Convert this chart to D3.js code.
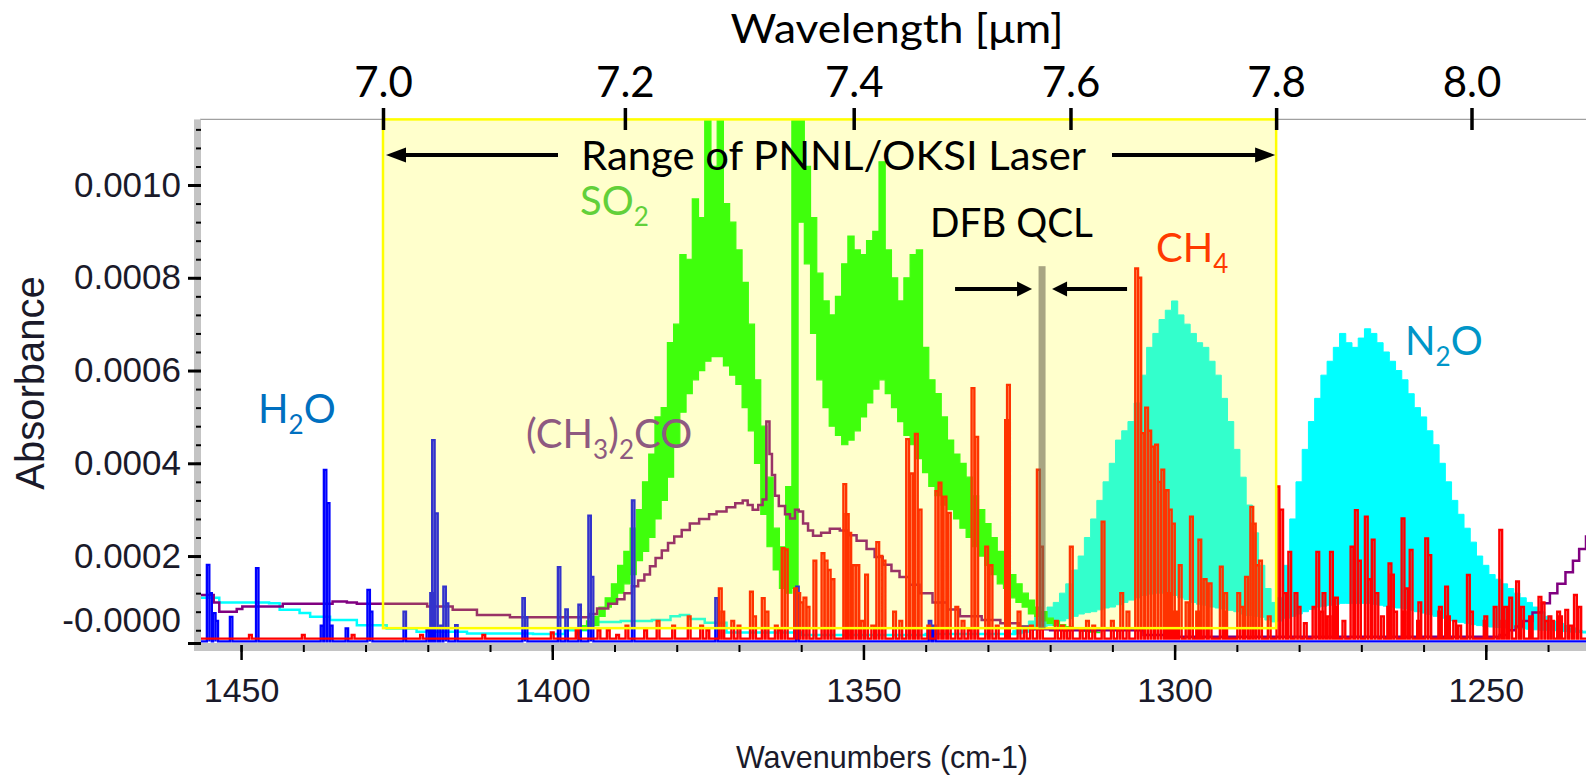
<!DOCTYPE html>
<html><head><meta charset="utf-8">
<script src="https://cdn.jsdelivr.net/npm/d3@7/dist/d3.min.js"></script>
<style>
html,body{margin:0;padding:0;background:#fff;}
svg{display:block;}
</style></head>
<body>
<svg id="chart" width="1586" height="779"></svg>
<script>
// ---------------- DATA ----------------
const yTickValues = [0.0000125, 0.0002, 0.0004, 0.0006, 0.0008, 0.0010];
const yTickLabels = ["-0.0000", "0.0002", "0.0004", "0.0006", "0.0008", "0.0010"];
const xTickValues = [1450, 1400, 1350, 1300, 1250];
const wavelengthTicks = [7.0, 7.2, 7.4, 7.6, 7.8, 8.0];
const laserRangeUm = [7.0, 7.8];
const laserBoxBottomAbs = 0.0000445;
const qclWn = 1321.3;
const qclTopAbs = 0.000825;

// SO2 (green): comb band, lower envelope / upper peaks at 1 cm-1 from 1396 down
const so2Start = 1396;
const so2Low = [0.00003,0.00004,0.000045,0.00005,0.00007,0.00009,0.0001,0.00012,0.00014,0.00016,
 0.00019,0.00021,0.00024,0.00028,0.00032,0.00037,0.00044,0.00051,0.00055,0.00058,
 0.0006,0.00062,0.00063,0.00063,0.00061,0.00059,0.00057,0.00052,0.00047,0.0004,
 0.00029,0.00022,0.00017,0.00013,0.00012,0.00013,0.00092,0.00083,0.00068,0.00058,
 0.00052,0.00048,0.00046,0.00044,0.00045,0.00047,0.0005,0.00053,0.00056,0.00058,
 0.00055,0.00052,0.00049,0.00046,0.00044,0.00041,0.00038,0.00035,0.00033,0.00031,
 0.0003,0.00028,0.00026,0.00024,0.00022,0.0002,0.00018,0.00016,0.00014,0.00013,
 0.00011,0.0001,0.00009,0.000075,0.00007,0.00006,0.000055,0.00005,0.000048,0.000045,
 0.00004,0.00004,0.000038,0.000036,0.000035];
const so2High = [0.00004,0.00005,0.00006,0.00007,0.00009,0.00011,0.00014,0.00018,0.00021,0.00026,
 0.0003,0.00036,0.00042,0.0005,0.00052,0.00066,0.0007,0.00085,0.00084,0.00097,
 0.00093,0.00114,0.00104,0.00114,0.00096,0.00092,0.00086,0.00079,0.0007,0.00058,
 0.00048,0.00037,0.00026,0.00022,0.00035,0.00114,0.00114,0.00104,0.00093,0.00081,
 0.00075,0.00072,0.00076,0.00083,0.00089,0.00086,0.00085,0.00088,0.0009,0.00105,
 0.00086,0.0008,0.00075,0.0008,0.00085,0.00086,0.00065,0.00058,0.00055,0.0005,
 0.00045,0.00042,0.0004,0.00037,0.00033,0.0003,0.00027,0.00024,0.00021,0.00019,
 0.00016,0.00014,0.00012,0.000105,0.00009,0.00008,0.000066,0.00006,0.000052,0.000048,
 0.000045,0.000042,0.00004,0.000038,0.000036];

// N2O (cyan): comb band from 1326 down, plus slow baseline drift on the left
const n2oStart = 1326;
const n2oLow = [0.00003,0.000032,0.000035,0.00004,0.000042,0.000045,0.00005,0.000055,0.00006,0.000065,
 0.00007,0.000075,0.000078,0.00008,0.000084,0.000088,0.00009,0.000095,0.0001,0.000105,
 0.00011,0.000115,0.000118,0.00012,0.00012,0.000118,0.000115,0.00011,0.000106,0.0001,
 0.000096,0.000094,0.00009,0.000088,0.000086,0.000083,0.00008,0.000075,0.000072,0.00007,
 0.000068,0.000062,0.000058,0.00006,0.000066,0.00007,0.000075,0.00008,0.000085,0.00009,
 0.000092,0.000094,0.000096,0.000098,0.000098,0.000098,0.000098,0.000098,0.000096,0.000094,
 0.000092,0.00009,0.000088,0.000086,0.000083,0.00008,0.000077,0.000074,0.00007,0.000066,
 0.000063,0.00006,0.000057,0.000055,0.000052,0.00005,0.000048,0.000047,0.000046,0.000045,
 0.000044,0.000044,0.000043,0.000042,0.000041,0.00004,0.00004,0.000039,0.000038,0.000037,
 0.000036,0.000035,0.000034,0.000034];
const n2oHigh = [0.00004,0.000045,0.00005,0.00006,0.00007,0.00008,0.00009,0.0001,0.00012,0.00014,
 0.00017,0.0002,0.00024,0.00028,0.00032,0.00036,0.0004,0.00045,0.00047,0.00049,
 0.00053,0.00059,0.00065,0.00068,0.00071,0.00073,0.00075,0.00072,0.0007,0.00068,
 0.00066,0.00065,0.00062,0.00059,0.00054,0.00049,0.00043,0.00037,0.00031,0.00025,
 0.00018,0.00013,0.0001,0.00011,0.00018,0.00028,0.00036,0.00043,0.00049,0.00054,
 0.00059,0.00062,0.00065,0.00068,0.00066,0.00065,0.00067,0.00069,0.00068,0.00066,
 0.00064,0.00062,0.0006,0.00058,0.00055,0.00052,0.0005,0.00047,0.00044,0.0004,
 0.00036,0.00032,0.00029,0.00026,0.00023,0.0002,0.00018,0.00016,0.00015,0.00014,
 0.00013,0.00012,0.00011,0.0001,0.00009,0.00008,0.00007,0.00006,0.000055,0.00005,
 0.000045,0.00004,0.000038,0.000036];
const n2oDriftWn  = [1456.6,1453.5,1445.5,1443.8,1440.6,1438.9,1435.7,1431.4,1426.6,1421.8,1413.7,1403.1,1398,1394,1389,1384,1381,1379.5,1378,1375.5,1372,1360,1340,1326];
const n2oDriftAbs = [0.00011,0.0001,0.000098,0.000084,0.000077,0.000069,0.000062,0.000051,0.000044,0.000037,0.000033,0.000032,0.00004,0.000058,0.00006,0.000062,0.00007,0.000073,0.000064,0.000056,0.000035,0.00003,0.000032,0.00003];

// Acetone (CH3)2CO (purple)
const acetoneWn = [1456.6,1454.4,1453.5,1450.7,1449.8,1443.3,1435.3,1433.0,1431.4,1420.1,1416.0,1412.1,1406.8,1399,1394,1392.8,1391,1389.6,1388.4,1387.2,1386.2,1385.2,1384.3,1383.4,1382.4,1381.4,1380.4,1379.2,1377.9,1376.4,1374.8,1373.6,1372.0,1370.6,1369.4,1368.6,1367.8,1366.9,1366.2,1365.6,1365.1,1364.7,1364.2,1363.6,1362.6,1361.8,1361.0,1360.4,1359.7,1358.9,1358.1,1356.8,1355.4,1353.8,1352.5,1351.1,1349.5,1348.2,1346.9,1345.5,1344.2,1342.6,1341.0,1338.9,1336.5,1334.5,1331.0,1328.0,1325.0,1322.8,1320.0,1310.0,1305.0,1300,1250,1247.8,1246.5,1245.2,1244,1242.5,1241,1239.7,1238.5,1237.2,1236,1235,1233.9];
const acetoneAbs = [0.000116,0.0001,0.00008,0.000086,0.000091,0.000097,0.000102,0.0001,0.000097,0.000091,0.000084,0.000073,0.000068,0.000068,0.000075,0.000087,0.000097,0.000107,0.00012,0.000135,0.000147,0.00016,0.000178,0.000196,0.000212,0.000228,0.000242,0.000256,0.00027,0.00028,0.00029,0.000296,0.000305,0.000314,0.00032,0.00031,0.0003,0.00031,0.000322,0.00049,0.00042,0.000375,0.00033,0.000308,0.00029,0.000281,0.0003,0.000296,0.00027,0.000255,0.000244,0.00025,0.000259,0.000255,0.000245,0.000233,0.000215,0.000198,0.000181,0.000168,0.000155,0.000138,0.00012,0.0001,0.000085,0.00007,0.000062,0.000055,0.000048,0.000042,0.00004,0.00004,0.00003,0.000026,0.000026,0.00003,0.00004,0.000048,0.00006,0.000078,0.000098,0.00012,0.00014,0.000165,0.00019,0.000215,0.000245];

// H2O (blue) lines
const h2oWn  = [1455.3,1454.9,1454.3,1453.9,1451.6,1447.4,1437.0,1436.5,1436.0,1435.5,1433.0,1429.5,1429.1,1423.7,1420.0,1419.4,1419.1,1418.6,1417.8,1417.3,1416.9,1415.4,1404.6,1404.2,1398.9,1397.7,1395.6,1394.0,1393.6,1387.0,1373.6,1360.6,1339.3,1338.6];
const h2oAbs = [0.000181,0.00012,0.000077,0.00006,0.000069,0.000174,0.00005,0.000386,0.000314,0.00005,0.000044,0.000127,0.00008,0.00008,0.00004,0.00012,0.00045,0.000292,0.00005,0.000134,0.000098,0.000051,0.000109,0.000068,0.000176,0.000085,0.000095,0.000287,0.000155,0.00032,0.000109,0.000134,0.00006,0.00005];

// CH4 (red) strong lines
const ch4Wn  = [1448.5,1440.0,1432.0,1421.0,1411.0,1400.0,1396.0,1391.0,1388.0,1385.0,1383.0,1380.5,1378.0,1376.0,1373.0,1372.6,1370.0,1368.0,1367.5,1366.1,1365.5,1362.9,1362.4,1360.9,1360.4,1359.9,1359.4,1358.9,1357.8,1356.5,1356.0,1355.5,1354.9,1353.0,1352.6,1352.2,1351.5,1350.9,1349.5,1347.7,1347.2,1346.7,1345.0,1342.9,1342.3,1341.5,1340.9,1338.2,1337.7,1336.9,1336.2,1335.0,1332.4,1331.8,1330.2,1329.5,1327.0,1326.7,1325.0,1321.9,1321.4,1319.0,1316.6,1314.0,1311.5,1308.5,1306.1,1305.6,1305.1,1304.5,1304.0,1303.5,1302.9,1302.4,1301.9,1301.2,1300.7,1300.2,1299.1,1297.3,1295.95,1295.1,1294.3,1292.5,1291.8,1288.45,1287.6,1287.2,1286.7,1283.4,1282.8,1282.3,1281.5,1280.5,1277.0,1276.4,1274.8,1274.3,1271.5,1270.8,1270.3,1269.2,1268.7,1268.1,1267.5,1265.4,1265.0,1263.3,1262.7,1262.0,1260.6,1259.5,1259.0,1257.4,1256.3,1255.0,1252.8,1252.3,1250.1,1247.6,1246.8,1246.0,1244.9,1244.1,1242.8,1241.3,1240.8,1239.7,1238.3,1237.0,1235.6,1234.9];
const ch4Abs = [0.00003,0.00003,0.00003,0.00003,0.00003,0.000035,0.00004,0.00004,0.00005,0.00004,0.00006,0.00005,0.00007,0.00005,0.00013,0.00008,0.00005,0.000123,0.00007,0.000109,0.00008,0.000217,0.000214,0.00013,0.00012,0.0001,0.00011,0.00009,0.00019,0.000206,0.00019,0.00017,0.00015,0.000355,0.00029,0.00025,0.00018,0.00018,0.00016,0.00023,0.0002,0.00019,0.00008,0.000452,0.000378,0.000463,0.0003,0.00034,0.000358,0.000328,0.000293,0.00009,0.000562,0.000457,0.00022,0.00018,0.000493,0.000569,0.00008,0.000386,0.00022,0.00006,0.00022,0.00006,0.000274,0.00012,0.00082,0.0008,0.000465,0.00052,0.00047,0.000436,0.00044,0.00036,0.000386,0.000342,0.0003,0.00027,0.00018,0.000285,0.000235,0.00015,0.000141,0.000177,0.00012,0.000155,0.000306,0.00027,0.00018,0.00035,0.0003,0.00012,0.000209,0.00012,0.000209,0.00008,0.000209,0.00009,0.00022,0.000299,0.00019,0.000285,0.00015,0.000235,0.00012,0.000184,0.00016,0.000281,0.00013,0.000213,0.0001,0.000238,0.000202,0.00008,0.000134,0.00006,0.000159,0.00008,0.00006,0.000256,0.00009,0.00011,0.000145,0.00009,0.00007,0.000112,0.0001,0.00007,0.00008,0.000084,0.000116,0.00009];
// CH4 weak lines (low "grass" near the baseline)
const ch4WeakWn  = [1392.5,1389.5,1375.0,1371.0,1364.0,1363.5,1350.2,1348.5,1344.0,1339.5,1334.0,1333.0,1328.5,1324.0,1323.0,1318.0,1317.5,1315.0,1313.0,1310.0,1309.0,1307.5,1301.0,1299.9,1298.0,1296.3,1292.0,1289.7,1289.2,1286.2,1284.8,1280.0,1279.0,1277.6,1276.0,1275.2,1274.0,1272.8,1266.6,1265.6,1264.5,1263.1,1260.8,1257.3,1256.0,1254.2,1250.0,1248.5,1247.2,1242.7,1240.3,1239.3,1238.0,1236.4];
const ch4WeakAbs = [0.00004,0.00003,0.00004,0.00006,0.00005,0.00004,0.00006,0.00005,0.00006,0.00005,0.00006,0.00004,0.00005,0.00004,0.00005,0.00005,0.00004,0.00004,0.00005,0.00006,0.00004,0.00008,0.00012,0.00008,0.0001,0.00008,0.00008,0.00012,0.00009,0.00019,0.00007,0.00009,0.000055,0.00009,0.00012,0.00007,0.00011,0.00006,0.00007,0.00009,0.00008,0.00008,0.00006,0.00009,0.00007,0.00005,0.00007,0.00009,0.00006,0.00007,0.00006,0.00006,0.00007,0.00005];

// ---------------- CHART ----------------
const svg = d3.select("#chart");
const plot = {left: 200, right: 1586, top: 119.4, bottom: 643};
const axisFont = "'Liberation Sans', Arial, sans-serif";
const noteFont = "Lato, 'Open Sans', sans-serif";

const x = d3.scaleLinear().domain([1456.6, 1233.9]).range([plot.left, plot.right]);
const y = d3.scaleLinear().domain([0.0000125, 0.0011415]).range([plot.bottom, plot.top]);
const xTop = d3.scaleLinear().domain([10000 / 7.0, 10000 / 8.0]).range([383, 1471.5]);

svg.append("rect").attr("width", 1586).attr("height", 779).attr("fill", "#fff");

svg.append("defs").append("clipPath").attr("id", "plotclip")
  .append("rect").attr("x", plot.left).attr("y", plot.top)
  .attr("width", plot.right - plot.left).attr("height", plot.bottom - plot.top);

const gp = svg.append("g").attr("clip-path", "url(#plotclip)");

const band = d3.area().x(d => x(d.w)).y0(d => y(d.lo)).y1(d => y(d.hi)).curve(d3.curveStep);
const n2oData = n2oLow.map((lo, i) => ({w: n2oStart - i, lo, hi: n2oHigh[i]}));
const so2Data = so2Low.map((lo, i) => ({w: so2Start - i, lo, hi: so2High[i]}));

// N2O
gp.append("path").datum(n2oData).attr("d", band).attr("fill", "#00FFFF")
  .attr("stroke", "#00FFFF").attr("stroke-width", 1);
gp.append("path").datum(n2oDriftWn.map((w, i) => [w, n2oDriftAbs[i]]))
  .attr("d", d3.line().x(d => x(d[0])).y(d => y(d[1])).curve(d3.curveStepAfter))
  .attr("fill", "none").attr("stroke", "#00FFFF").attr("stroke-width", 2.5);

// SO2
gp.append("path").datum(so2Data).attr("d", band).attr("fill", "#10FF10")
  .attr("stroke", "#10FF10").attr("stroke-width", 1.2);

// Acetone
gp.append("path").datum(acetoneWn.map((w, i) => [w, acetoneAbs[i]]))
  .attr("d", d3.line().x(d => x(d[0])).y(d => y(d[1])).curve(d3.curveStepAfter))
  .attr("fill", "none").attr("stroke", "#800080").attr("stroke-width", 2.5);

// stick spectra
function stickPoints(wn, ab, base, hw) {
  const idx = d3.range(wn.length).sort((a, b) => wn[b] - wn[a]);
  const pts = [[x.domain()[0], base]];
  idx.forEach(i => {
    const w = wn[i];
    pts.push([w + hw, base], [w + hw, ab[i]], [w - hw, ab[i]], [w - hw, base]);
  });
  pts.push([x.domain()[1], base]);
  return pts;
}
const stickLine = d3.line().x(d => x(d[0])).y(d => y(d[1]));
gp.append("path").datum(stickPoints(h2oWn, h2oAbs, 0.000016, 0.2))
  .attr("d", stickLine).attr("fill", "none").attr("stroke", "#0000FF")
  .attr("stroke-width", 2.3).attr("stroke-linejoin", "miter");
gp.append("path").datum(stickPoints(ch4Wn.concat(ch4WeakWn), ch4Abs.concat(ch4WeakAbs), 0.000022, 0.22))
  .attr("d", stickLine).attr("fill", "none").attr("stroke", "#FF0000")
  .attr("stroke-width", 2.4).attr("stroke-linejoin", "miter");

// Laser range box (translucent yellow)
const bx0 = xTop(10000 / laserRangeUm[0]), bx1 = xTop(10000 / laserRangeUm[1]);
const by1 = y(laserBoxBottomAbs);
svg.append("rect").attr("x", bx0).attr("y", plot.top).attr("width", bx1 - bx0)
  .attr("height", by1 - plot.top).attr("fill", "rgba(255,255,0,0.2)")
  .attr("stroke", "#FFFF00").attr("stroke-width", 2.5);

// plot top border
svg.append("line").attr("x1", plot.left).attr("x2", bx0).attr("y1", plot.top).attr("y2", plot.top)
  .attr("stroke", "#a0a0a0").attr("stroke-width", 1.2);
svg.append("line").attr("x1", bx1).attr("x2", plot.right).attr("y1", plot.top).attr("y2", plot.top)
  .attr("stroke", "#a0a0a0").attr("stroke-width", 1.2);

// DFB QCL bar
const qx = x(qclWn);
svg.append("rect").attr("x", qx - 3.5).attr("y", y(qclTopAbs)).attr("width", 7)
  .attr("height", by1 - y(qclTopAbs)).attr("fill", "rgb(110,105,80)").attr("opacity", 0.6);

// ------------ axes ------------
svg.append("rect").attr("x", 194).attr("y", plot.top).attr("width", 7)
  .attr("height", plot.bottom + 8 - plot.top).attr("fill", "#c4c4c4");
svg.append("rect").attr("x", 194).attr("y", plot.bottom).attr("width", plot.right - 194)
  .attr("height", 8).attr("fill", "#c4c4c4");

function styleAxis(g, tickW) {
  g.select(".domain").remove();
  g.selectAll(".tick line").attr("stroke", "#000").attr("stroke-width", tickW);
}

const yMinor = d3.range(0.00004, 0.00114, 0.00004);
svg.append("g").attr("transform", "translate(201,0)")
  .call(d3.axisLeft(y).tickValues(yMinor).tickSize(5).tickFormat(""))
  .call(g => styleAxis(g, 2));
const gy = svg.append("g").attr("transform", "translate(201,0)")
  .call(d3.axisLeft(y).tickValues(yTickValues).tickSize(13).tickPadding(7)
    .tickFormat((d, i) => yTickLabels[i]))
  .call(g => styleAxis(g, 3));
gy.selectAll("text").attr("font-family", axisFont).attr("font-size", 35).attr("fill", "#1a1a2a");
gy.selectAll(".tick").filter((d, i) => i === 0).select("text").attr("dy", "-0.34em");

svg.append("g").attr("transform", `translate(0,${plot.bottom + 2})`)
  .call(d3.axisBottom(x).tickValues(d3.range(1240, 1460, 10)).tickSize(7).tickFormat(""))
  .call(g => styleAxis(g, 2));
const gx = svg.append("g").attr("transform", `translate(0,${plot.bottom + 2})`)
  .call(d3.axisBottom(x).tickValues(xTickValues).tickSize(15).tickPadding(18)
    .tickFormat(d3.format("d")))
  .call(g => styleAxis(g, 2.5));
gx.selectAll("text").attr("font-family", axisFont).attr("font-size", 34).attr("fill", "#1a1a2a");

const gt = svg.append("g").attr("transform", "translate(0,130)")
  .call(d3.axisTop(xTop).tickValues(wavelengthTicks.map(l => 10000 / l)).tickSize(22).tickPadding(11)
    .tickFormat((d, i) => wavelengthTicks[i].toFixed(1)))
  .call(g => styleAxis(g, 3.5));
gt.selectAll("text").attr("font-family", noteFont).attr("font-size", 42).attr("fill", "#000");

svg.append("text").attr("x", 897).attr("y", 43).attr("text-anchor", "middle")
  .attr("font-family", noteFont).attr("font-size", 40).attr("textLength", 333)
  .attr("lengthAdjust", "spacingAndGlyphs").text("Wavelength [μm]");
svg.append("text").attr("transform", "translate(44,383) rotate(-90)").attr("text-anchor", "middle")
  .attr("font-family", axisFont).attr("font-size", 40).attr("fill", "#1a1a2a").text("Absorbance");
svg.append("text").attr("x", 882).attr("y", 768).attr("text-anchor", "middle")
  .attr("font-family", axisFont).attr("font-size", 30.5).attr("fill", "#1a1a2a").text("Wavenumbers (cm-1)");

// ------------ annotations ------------
function subLabel(xp, yb, parts, color) {
  const t = svg.append("text").attr("x", xp).attr("y", yb).attr("font-family", noteFont)
    .attr("font-size", 40).attr("fill", color);
  let prevSub = false;
  parts.forEach(p => {
    const isSub = p[1];
    const ts = t.append("tspan").text(p[0]);
    if (isSub) ts.attr("font-size", 26).attr("dy", prevSub ? 0 : 11);
    else ts.attr("dy", prevSub ? -11 : 0);
    prevSub = isSub;
  });
  return t;
}
subLabel(258, 423, [["H", false], ["2", true], ["O", false]], "#0070C0");
subLabel(580, 215, [["SO", false], ["2", true]], "#62D03A");
subLabel(526, 448, [["(CH", false], ["3", true], [")", false], ["2", true], ["CO", false]], "#8E5A80");
subLabel(1156, 262, [["CH", false], ["4", true]], "#FF3A00");
subLabel(1405, 355, [["N", false], ["2", true], ["O", false]], "#0096C8");

svg.append("text").attr("x", 930).attr("y", 237).attr("font-family", noteFont)
  .attr("font-size", 40).attr("textLength", 163).attr("lengthAdjust", "spacingAndGlyphs")
  .attr("fill", "#000").text("DFB QCL");

svg.append("text").attr("x", 581).attr("y", 170).attr("font-family", noteFont)
  .attr("font-size", 40).attr("textLength", 505).attr("lengthAdjust", "spacingAndGlyphs")
  .attr("fill", "#000").text("Range of PNNL/OKSI Laser");

function arrow(x1, x2, yy, headLen, headHalf, sw) {
  const dir = Math.sign(x2 - x1);
  svg.append("line").attr("x1", x1).attr("x2", x2 - dir * headLen * 0.8).attr("y1", yy).attr("y2", yy)
    .attr("stroke", "#000").attr("stroke-width", sw);
  svg.append("path").attr("d", d3.line()([[x2, yy], [x2 - dir * headLen, yy - headHalf], [x2 - dir * headLen, yy + headHalf]]) + "Z")
    .attr("fill", "#000");
}
arrow(558, bx0 + 3, 155, 20, 7.5, 4);
arrow(1112, bx1 - 1, 155, 20, 7.5, 4);
arrow(qx - 87, qx - 10, 289, 15, 7.5, 4);
arrow(qx + 85, qx + 10, 289, 15, 7.5, 4);
</script></body></html>
